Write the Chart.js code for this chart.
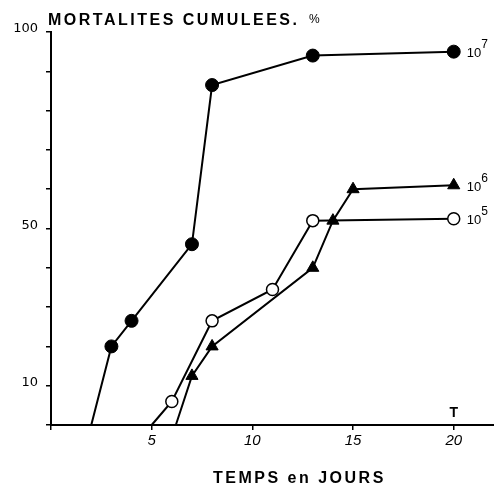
<!DOCTYPE html>
<html>
<head>
<meta charset="utf-8">
<script src="https://cdn.jsdelivr.net/npm/chart.js@4"></script>
<style>
  html, body { margin: 0; padding: 0; background: #fff; }
  #wrap { width: 494px; height: 487px; }
</style>
</head>
<body>
<div id="wrap"><canvas id="mortChart" width="494" height="487"></canvas></div>
<script>
// days / cumulative mortality (%)
const days7 = [2, 3, 4, 7, 8, 13, 20];
const mort7 = [0, 20, 26.5, 46, 86.5, 94, 95];
const days6 = [6.2, 7, 8, 13, 14, 15, 20];
const mort6 = [0, 12.5, 20, 40, 52, 60, 61];
const days5 = [5, 6, 8, 11, 13, 20];
const mort5 = [0, 6, 26.5, 34.5, 52, 52.5];
const doseExp = ['7', '6', '5'];

const xTickValues = [0, 5, 10, 15, 20];
const yTickValues = [0, 10, 20, 30, 40, 50, 60, 70, 80, 90, 100];
const yLabelled = [10, 50, 100];

function toPoints(xs, ys) {
    return xs.map(function (x, i) { return { x: x, y: ys[i] }; });
}
function radii(n, r) {
    // first point sits on the axis, no marker
    return Array.from({ length: n }, function (_, i) { return i === 0 ? 0 : r; });
}

Chart.defaults.font.family = "'Liberation Sans', Arial, sans-serif";
Chart.defaults.color = '#000';

const labelsPlugin = {
    id: 'figureText',
    afterDraw: function (chart) {
        const ctx = chart.ctx;
        const xs = chart.scales.x;
        const ys = chart.scales.y;
        ctx.save();
        ctx.fillStyle = '#000';
        ctx.textBaseline = 'middle';
        ctx.textAlign = 'left';

        // axis titles
        ctx.font = "bold 16px 'Liberation Sans', Arial, sans-serif";
        ctx.letterSpacing = '2.5px';
        ctx.fillText('MORTALITES CUMULEES.', 48, 21);
        ctx.fillText('TEMPS en JOURS', 213, 479);
        ctx.letterSpacing = '0px';
        ctx.font = "12px 'Liberation Sans', Arial, sans-serif";
        ctx.fillText('%', 309, 20);

        // T above day 20
        ctx.font = "bold 14px 'Liberation Sans', Arial, sans-serif";
        ctx.textAlign = 'center';
        ctx.fillText('T', xs.getPixelForValue(20), 413);

        // dose labels at the end of each curve
        ctx.textAlign = 'left';
        const sets = [[days7, mort7], [days6, mort6], [days5, mort5]];
        sets.forEach(function (s, i) {
            const last = s[0].length - 1;
            const px = xs.getPixelForValue(s[0][last]);
            const py = ys.getPixelForValue(s[1][last]);
            ctx.font = "13px 'Liberation Sans', Arial, sans-serif";
            ctx.fillText('10', px + 13, py + 2);
            const w = ctx.measureText('10').width;
            ctx.font = "12px 'Liberation Sans', Arial, sans-serif";
            ctx.fillText(doseExp[i], px + 13 + w, py - 7);
        });
        ctx.restore();
    }
};

const ctx = document.getElementById('mortChart').getContext('2d');
new Chart(ctx, {
    type: 'scatter',
    data: {
        datasets: [{
            label: '10^7',
            data: toPoints(days7, mort7),
            showLine: true,
            borderColor: '#000',
            borderWidth: 2,
            backgroundColor: '#000',
            pointStyle: 'circle',
            pointRadius: radii(days7.length, 6.5),
            pointBorderWidth: 1,
            clip: false
        }, {
            label: '10^6',
            data: toPoints(days6, mort6),
            showLine: true,
            borderColor: '#000',
            borderWidth: 2,
            backgroundColor: '#000',
            pointStyle: 'triangle',
            pointRadius: radii(days6.length, 7),
            pointBorderWidth: 1,
            clip: false
        }, {
            label: '10^5',
            data: toPoints(days5, mort5),
            showLine: true,
            borderColor: '#000',
            borderWidth: 2,
            pointBackgroundColor: '#fff',
            pointBorderColor: '#000',
            pointStyle: 'circle',
            pointRadius: radii(days5.length, 6),
            pointBorderWidth: 1.5,
            clip: false
        }]
    },
    options: {
        responsive: false,
        animation: false,
        devicePixelRatio: 1,
        layout: {
            autoPadding: false,
            padding: { top: 32, right: 0, left: 0, bottom: 0 }
        },
        plugins: {
            legend: { display: false },
            tooltip: { enabled: false },
            title: { display: false }
        },
        scales: {
            x: {
                type: 'linear',
                min: 0,
                max: 22,
                afterBuildTicks: function (scale) {
                    scale.ticks = xTickValues.map(function (v) { return { value: v }; });
                },
                afterFit: function (scale) { scale.height = 62; },
                ticks: {
                    padding: 2,
                    maxRotation: 0,
                    font: { size: 15, style: 'italic' },
                    callback: function (v) { return v === 0 ? '' : String(v); }
                },
                grid: {
                    drawOnChartArea: false,
                    color: '#000',
                    lineWidth: 1.5,
                    tickLength: 5
                },
                border: { color: '#000', width: 2 }
            },
            y: {
                type: 'linear',
                min: 0,
                max: 100,
                afterBuildTicks: function (scale) {
                    scale.ticks = yTickValues.map(function (v) { return { value: v }; });
                },
                afterFit: function (scale) { scale.width = 51; },
                ticks: {
                    padding: 8,
                    labelOffset: -3,
                    font: { size: 13, family: "'DejaVu Sans', sans-serif" },
                    callback: function (v) { return yLabelled.indexOf(v) >= 0 ? String(v) : ''; }
                },
                grid: {
                    drawOnChartArea: false,
                    color: '#000',
                    lineWidth: 1.5,
                    tickLength: 5
                },
                border: { color: '#000', width: 2 }
            }
        }
    },
    plugins: [labelsPlugin]
});
</script>
</body>
</html>
